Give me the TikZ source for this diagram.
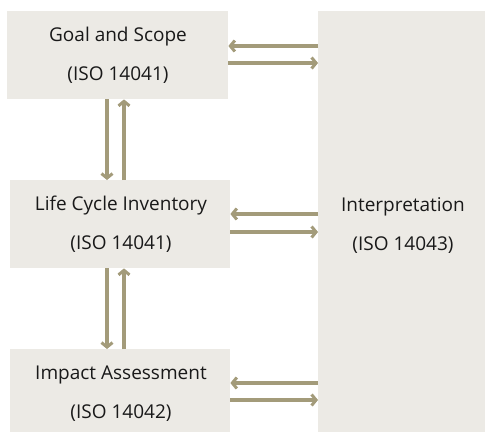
\documentclass[tikz,border=0pt]{standalone}
\usepackage{fontspec}
\setmainfont{Open Sans}
\usetikzlibrary{arrows.meta}
\definecolor{boxfill}{RGB}{236,234,229}
\definecolor{arrcol}{RGB}{163,155,122}
\begin{document}
\begin{tikzpicture}[x=1pt,y=-1pt,
  box/.style={fill=boxfill,draw=none,inner sep=0pt,anchor=north west},
  lbl/.style={font=\fontsize{19}{22}\selectfont,text=black!90,inner sep=0pt},
  arr/.style={draw=arrcol,line width=3.2pt,-{Straight Barb[length=4.5pt,width=11pt,line width=3pt]}}]
\useasboundingbox[fill=white] (0,0) rectangle (485,432);
\node[box,minimum width=221pt,minimum height=88pt] (gs) at (7,11) {};
\node[box,minimum width=220pt,minimum height=88pt] (lci) at (10,180) {};
\node[box,minimum width=220pt,minimum height=83pt] (ia) at (10,349) {};
\node[box,minimum width=167pt,minimum height=421pt] (int) at (318,11) {};
\node[lbl] (t1) at (118,37) {Goal and Scope};
\node[lbl] (t2) at (118,75) {(ISO 14041)};
\node[lbl] (t3) at (121,206) {Life Cycle Inventory};
\node[lbl] (t4) at (121,244) {(ISO 14041)};
\node[lbl] (t5) at (121,375) {Impact Assessment};
\node[lbl] (t6) at (121,413) {(ISO 14042)};
\node[lbl] (t7) at (403,207) {Interpretation};
\node[lbl] (t8) at (403,245) {(ISO 14043)};
% horizontal arrows
\draw[arr] (int.west |- 0,46) -- (gs.east |- 0,46);
\draw[arr] (gs.east |- 0,63) -- (int.west |- 0,63);
\draw[arr] (int.west |- 0,214) -- (lci.east |- 0,214);
\draw[arr] (lci.east |- 0,232) -- (int.west |- 0,232);
\draw[arr] (int.west |- 0,383) -- (ia.east |- 0,383);
\draw[arr] (ia.east |- 0,400) -- (int.west |- 0,400);
% vertical arrows
\draw[arr] (gs.south -| 107,0) -- (lci.north -| 107,0);
\draw[arr] (lci.north -| 124,0) -- (gs.south -| 124,0);
\draw[arr] (lci.south -| 107,0) -- (ia.north -| 107,0);
\draw[arr] (ia.north -| 124,0) -- (lci.south -| 124,0);
\end{tikzpicture}
\end{document}
